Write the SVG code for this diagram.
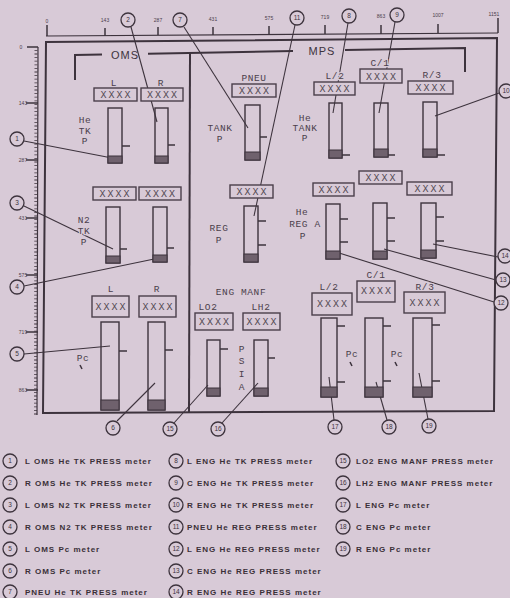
<svg xmlns="http://www.w3.org/2000/svg" width="510" height="598" viewBox="0 0 510 598">
<style>
.fr{stroke:#3d333d;fill:none;stroke-width:2}
.ln{stroke:#3d333d;fill:none;stroke-width:1.2}
.bx{fill:#d8cad7;stroke:#4a3f4a;stroke-width:1.4}
.bar{fill:none;stroke:#3d333d;stroke-width:1.4}
.lvl{fill:#6f616d;stroke:#3d333d;stroke-width:1}
.tk{stroke:#3d333d;stroke-width:1.5}
.t{font-family:"Liberation Mono",monospace;font-size:9.5px;fill:#4b404b;text-anchor:middle;letter-spacing:0.6px;paint-order:stroke;stroke:#d8cad7;stroke-width:2.5px}
.x{font-family:"Liberation Mono",monospace;font-size:10px;fill:#514651;text-anchor:middle;letter-spacing:2px}
.h{font-family:"Liberation Sans",Arial,sans-serif;font-size:11px;fill:#3d333d;text-anchor:middle;letter-spacing:1px}
.r{font-family:"Liberation Sans",Arial,sans-serif;font-size:5px;fill:#4b404b;text-anchor:middle}
.cn{stroke:#3d333d;stroke-width:1.1;fill:none}
.c{fill:#d8cad7;stroke:#3d333d;stroke-width:1.3}
.n{font-family:"Liberation Sans",Arial,sans-serif;font-size:6.5px;fill:#3d333d;text-anchor:middle}
.lg{font-family:"Liberation Sans",Arial,sans-serif;font-size:8px;font-weight:bold;fill:#3a3038;letter-spacing:1px}
</style>
<rect width="510" height="598" fill="#d8cad7"/>

<g id="rulers">
  <line class="ln" x1="46" y1="36" x2="498" y2="33"/>
  <g class="tk" stroke-width="1.2">
    <line x1="47" y1="25" x2="47" y2="36"/>
    <line x1="105" y1="28" x2="105" y2="36"/>
    <line x1="158" y1="27" x2="158" y2="35"/>
    <line x1="213" y1="27" x2="213" y2="35"/>
    <line x1="269" y1="26" x2="269" y2="35"/>
    <line x1="325" y1="25" x2="325" y2="34"/>
    <line x1="381" y1="25" x2="381" y2="34"/>
    <line x1="438" y1="24" x2="438" y2="33"/>
    <line x1="498" y1="18" x2="498" y2="33"/>
  </g>
  <text class="r" x="47" y="23">0</text>
  <text class="r" x="105" y="22">143</text>
  <text class="r" x="158" y="22">287</text>
  <text class="r" x="213" y="21">431</text>
  <text class="r" x="269" y="20">575</text>
  <text class="r" x="325" y="19">719</text>
  <text class="r" x="381" y="18">863</text>
  <text class="r" x="438" y="17">1007</text>
  <text class="r" x="494" y="16">1151</text>
  <line class="ln" x1="38" y1="47" x2="37" y2="415"/>
  <line x1="36" y1="50" x2="35.5" y2="415" stroke="#3d333d" stroke-width="3" stroke-dasharray="0.8 2.8"/>
  <g class="tk" stroke-width="1.2">
    <line x1="27" y1="47" x2="38" y2="47"/>
    <line x1="26" y1="103" x2="38" y2="103"/>
    <line x1="26" y1="160" x2="38" y2="160"/>
    <line x1="26" y1="218" x2="38" y2="218"/>
    <line x1="26" y1="275" x2="38" y2="275"/>
    <line x1="26" y1="332" x2="38" y2="332"/>
    <line x1="26" y1="390" x2="38" y2="390"/>
  </g>
  <text class="r" x="21" y="49" text-anchor="end">0</text>
  <text class="r" x="23" y="105" text-anchor="end">143</text>
  <text class="r" x="23" y="162" text-anchor="end">287</text>
  <text class="r" x="23" y="220" text-anchor="end">431</text>
  <text class="r" x="23" y="277" text-anchor="end">575</text>
  <text class="r" x="23" y="334" text-anchor="end">719</text>
  <text class="r" x="23" y="392" text-anchor="end">863</text>
</g>

<g id="frame">
  <polygon class="fr" points="46,42 497,38 494,411 43,413"/>
  <polyline class="fr" points="75,80 75,55 102,54.5"/>
  <line class="fr" x1="148" y1="53.7" x2="293" y2="51.1"/>
  <polyline class="fr" points="345,50.1 465,48 465,72"/>
  <line class="fr" x1="190" y1="53" x2="189" y2="412"/>
  <text class="h" x="125" y="59">OMS</text>
  <text class="h" x="322" y="55">MPS</text>
</g>

<g id="connectors">
  <line class="cn" x1="24" y1="141" x2="112" y2="158"/>
  <line class="cn" x1="131" y1="27" x2="157" y2="122"/>
  <line class="cn" x1="24" y1="206" x2="113" y2="249"/>
  <line class="cn" x1="24" y1="286" x2="159" y2="258"/>
  <line class="cn" x1="24" y1="354" x2="110" y2="346"/>
  <line class="cn" x1="117" y1="421" x2="155" y2="383"/>
  <line class="cn" x1="184" y1="27" x2="248" y2="128"/>
  <line class="cn" x1="348" y1="23" x2="333" y2="113"/>
  <line class="cn" x1="395" y1="22" x2="379" y2="113"/>
  <line class="cn" x1="499" y1="93" x2="435" y2="116"/>
  <line class="cn" x1="295" y1="25" x2="254" y2="216"/>
  <line class="cn" x1="494" y1="302" x2="336" y2="252"/>
  <line class="cn" x1="496" y1="280" x2="384" y2="249"/>
  <line class="cn" x1="498" y1="257" x2="433" y2="244"/>
  <line class="cn" x1="174" y1="423" x2="208" y2="385"/>
  <line class="cn" x1="222" y1="423" x2="258" y2="383"/>
  <line class="cn" x1="334" y1="420" x2="329" y2="377"/>
  <line class="cn" x1="387" y1="420" x2="376" y2="382"/>
  <line class="cn" x1="428" y1="419" x2="419" y2="373"/>
</g>

<g id="oms-he">
  <text class="t" x="85" y="123">He</text><text class="t" x="85" y="134">TK</text><text class="t" x="85" y="144">P</text>
  <g id="m1">
    <text class="t" x="114" y="86">L</text>
    <rect class="bx" x="94" y="88" width="43" height="13"/><text class="x" x="116.5" y="98">XXXX</text>
    <rect class="bar" x="108" y="108" width="14" height="55"/><rect class="lvl" x="108" y="156" width="14" height="7"/>
    <line class="tk" x1="122" y1="146" x2="130" y2="146"/>
  </g>
  <g id="m2">
    <text class="t" x="161" y="86">R</text>
    <rect class="bx" x="141" y="88" width="42" height="13"/><text class="x" x="163" y="98">XXXX</text>
    <rect class="bar" x="155" y="108" width="13" height="55"/><rect class="lvl" x="155" y="156" width="13" height="7"/>
    <line class="tk" x1="168" y1="145" x2="175" y2="145"/>
  </g>
</g>

<g id="oms-n2">
  <text class="t" x="84" y="223">N2</text><text class="t" x="84" y="234">TK</text><text class="t" x="84" y="245">P</text>
  <g id="m3">
    <rect class="bx" x="93" y="187" width="43" height="13"/><text class="x" x="115.5" y="197">XXXX</text>
    <rect class="bar" x="106" y="207" width="14" height="56"/><rect class="lvl" x="106" y="256" width="14" height="7"/>
    <line class="tk" x1="120" y1="249" x2="127" y2="249"/>
  </g>
  <g id="m4">
    <rect class="bx" x="139" y="187" width="42" height="13"/><text class="x" x="161" y="197">XXXX</text>
    <rect class="bar" x="153" y="207" width="14" height="55"/><rect class="lvl" x="153" y="255" width="14" height="7"/>
    <line class="tk" x1="167" y1="248" x2="174" y2="248"/>
  </g>
</g>

<g id="oms-pc">
  <text class="t" x="83" y="361">Pc</text><line class="tk" x1="80" y1="365" x2="82" y2="369"/>
  <g id="m5">
    <text class="t" x="111" y="292">L</text>
    <rect class="bx" x="92" y="296" width="37" height="21"/><text class="x" x="111.5" y="310">XXXX</text>
    <rect class="bar" x="101" y="322" width="18" height="88"/><rect class="lvl" x="101" y="400" width="18" height="10"/>
    <line class="tk" x1="119" y1="351" x2="127" y2="351"/>
  </g>
  <g id="m6">
    <text class="t" x="157" y="292">R</text>
    <rect class="bx" x="139" y="296" width="37" height="21"/><text class="x" x="158.5" y="310">XXXX</text>
    <rect class="bar" x="148" y="322" width="17" height="88"/><rect class="lvl" x="148" y="400" width="17" height="10"/>
    <line class="tk" x1="165" y1="350" x2="173" y2="350"/>
  </g>
</g>

<g id="m7">
  <text class="t" x="254" y="81">PNEU</text>
  <rect class="bx" x="232" y="84" width="44" height="13"/><text class="x" x="255" y="94">XXXX</text>
  <text class="t" x="220" y="131">TANK</text><text class="t" x="220" y="142">P</text>
  <rect class="bar" x="245" y="105" width="15" height="55"/><rect class="lvl" x="245" y="152" width="15" height="8"/>
  <line class="tk" x1="260" y1="137" x2="267" y2="137"/>
</g>

<g id="m11">
  <rect class="bx" x="230" y="185" width="43" height="13"/><text class="x" x="252.5" y="195">XXXX</text>
  <text class="t" x="219" y="231">REG</text><text class="t" x="219" y="243">P</text>
  <rect class="bar" x="244" y="206" width="14" height="56"/><rect class="lvl" x="244" y="254" width="14" height="8"/>
  <line class="tk" x1="258" y1="221" x2="266" y2="221"/><line class="tk" x1="258" y1="245" x2="266" y2="245"/>
</g>

<g id="eng-manf">
  <text class="t" x="241" y="295">ENG MANF</text>
  <text class="t" x="242" y="352">P</text><text class="t" x="242" y="364">S</text><text class="t" x="242" y="377">I</text><text class="t" x="242" y="390">A</text>
  <g id="m15">
    <text class="t" x="208" y="310">LO2</text>
    <rect class="bx" x="195" y="313" width="38" height="17"/><text class="x" x="215" y="325">XXXX</text>
    <rect class="bar" x="207" y="340" width="13" height="56"/><rect class="lvl" x="207" y="388" width="13" height="8"/>
    <line class="tk" x1="220" y1="349" x2="228" y2="349"/>
  </g>
  <g id="m16">
    <text class="t" x="261" y="310">LH2</text>
    <rect class="bx" x="243" y="313" width="37" height="17"/><text class="x" x="262.5" y="325">XXXX</text>
    <rect class="bar" x="254" y="340" width="14" height="56"/><rect class="lvl" x="254" y="388" width="14" height="8"/>
    <line class="tk" x1="268" y1="358" x2="275" y2="358"/>
  </g>
</g>

<g id="mps-he-tank">
  <text class="t" x="305" y="121">He</text><text class="t" x="305" y="131">TANK</text><text class="t" x="305" y="141">P</text>
  <g id="m8">
    <text class="t" x="335" y="79">L/2</text>
    <rect class="bx" x="314" y="82" width="41" height="13"/><text class="x" x="335.5" y="92">XXXX</text>
    <rect class="bar" x="329" y="103" width="13" height="55"/><rect class="lvl" x="329" y="150" width="13" height="8"/>
    <line class="tk" x1="342" y1="155" x2="350" y2="155"/>
  </g>
  <g id="m9">
    <text class="t" x="380" y="66">C/1</text>
    <rect class="bx" x="360" y="69" width="42" height="14"/><text class="x" x="382" y="80">XXXX</text>
    <rect class="bar" x="374" y="103" width="14" height="54"/><rect class="lvl" x="374" y="149" width="14" height="8"/>
    <line class="tk" x1="388" y1="155" x2="395" y2="155"/>
  </g>
  <g id="m10">
    <text class="t" x="432" y="78">R/3</text>
    <rect class="bx" x="408" y="81" width="45" height="13"/><text class="x" x="431.5" y="91">XXXX</text>
    <rect class="bar" x="423" y="102" width="14" height="55"/><rect class="lvl" x="423" y="149" width="14" height="8"/>
    <line class="tk" x1="437" y1="155" x2="445" y2="155"/>
  </g>
</g>

<g id="mps-he-reg">
  <text class="t" x="302" y="215">He</text><text class="t" x="305" y="227">REG A</text><text class="t" x="303" y="239">P</text>
  <g id="m12">
    <rect class="bx" x="313" y="183" width="41" height="13"/><text class="x" x="334.5" y="193">XXXX</text>
    <rect class="bar" x="326" y="204" width="14" height="55"/><rect class="lvl" x="326" y="251" width="14" height="8"/>
    <line class="tk" x1="340" y1="219" x2="348" y2="219"/><line class="tk" x1="340" y1="242" x2="348" y2="242"/>
  </g>
  <g id="m13">
    <rect class="bx" x="359" y="171" width="43" height="13"/><text class="x" x="381.5" y="181">XXXX</text>
    <rect class="bar" x="373" y="203" width="14" height="56"/><rect class="lvl" x="373" y="251" width="14" height="8"/>
    <line class="tk" x1="387" y1="218" x2="395" y2="218"/><line class="tk" x1="387" y1="241" x2="395" y2="241"/>
  </g>
  <g id="m14">
    <rect class="bx" x="407" y="182" width="45" height="13"/><text class="x" x="430.5" y="192">XXXX</text>
    <rect class="bar" x="421" y="203" width="15" height="55"/><rect class="lvl" x="421" y="250" width="15" height="8"/>
    <line class="tk" x1="436" y1="217" x2="444" y2="217"/><line class="tk" x1="436" y1="241" x2="444" y2="241"/>
  </g>
</g>

<g id="mps-pc">
  <text class="t" x="352" y="357">Pc</text><line class="tk" x1="350" y1="362" x2="352" y2="366"/>
  <text class="t" x="397" y="357">Pc</text><line class="tk" x1="395" y1="362" x2="397" y2="366"/>
  <g id="m17">
    <text class="t" x="329" y="290">L/2</text>
    <rect class="bx" x="312" y="293" width="40" height="22"/><text class="x" x="333" y="307">XXXX</text>
    <rect class="bar" x="321" y="318" width="16" height="79"/><rect class="lvl" x="321" y="387" width="16" height="10"/>
    <line class="tk" x1="337" y1="326" x2="345" y2="326"/><line class="tk" x1="337" y1="382" x2="345" y2="382"/>
  </g>
  <g id="m18">
    <text class="t" x="376" y="278">C/1</text>
    <rect class="bx" x="357" y="281" width="38" height="21"/><text class="x" x="377" y="294">XXXX</text>
    <rect class="bar" x="365" y="318" width="18" height="79"/><rect class="lvl" x="365" y="387" width="18" height="10"/>
    <line class="tk" x1="383" y1="326" x2="391" y2="326"/><line class="tk" x1="383" y1="381" x2="391" y2="381"/>
  </g>
  <g id="m19">
    <text class="t" x="425" y="290">R/3</text>
    <rect class="bx" x="404" y="292" width="41" height="21"/><text class="x" x="425.5" y="306">XXXX</text>
    <rect class="bar" x="413" y="318" width="19" height="79"/><rect class="lvl" x="413" y="387" width="19" height="10"/>
    <line class="tk" x1="432" y1="325" x2="440" y2="325"/><line class="tk" x1="432" y1="381" x2="440" y2="381"/>
  </g>
</g>

<g id="callouts">
  <g id="c1"><circle class="c" cx="17" cy="139" r="7"/><text class="n" x="17" y="141.3">1</text></g>
  <g id="c2"><circle class="c" cx="128" cy="20" r="7"/><text class="n" x="128" y="22.3">2</text></g>
  <g id="c3"><circle class="c" cx="17" cy="203" r="7"/><text class="n" x="17" y="205.3">3</text></g>
  <g id="c4"><circle class="c" cx="17" cy="287" r="7"/><text class="n" x="17" y="289.3">4</text></g>
  <g id="c5"><circle class="c" cx="17" cy="354" r="7"/><text class="n" x="17" y="356.3">5</text></g>
  <g id="c6"><circle class="c" cx="113" cy="428" r="7"/><text class="n" x="113" y="430.3">6</text></g>
  <g id="c7"><circle class="c" cx="180" cy="20" r="7"/><text class="n" x="180" y="22.3">7</text></g>
  <g id="c8"><circle class="c" cx="349" cy="16" r="7"/><text class="n" x="349" y="18.3">8</text></g>
  <g id="c9"><circle class="c" cx="397" cy="15" r="7"/><text class="n" x="397" y="17.3">9</text></g>
  <g id="c10"><circle class="c" cx="506" cy="91" r="7"/><text class="n" x="506" y="93.3">10</text></g>
  <g id="c11"><circle class="c" cx="297" cy="18" r="7"/><text class="n" x="297" y="20.3">11</text></g>
  <g id="c12"><circle class="c" cx="501" cy="303" r="7"/><text class="n" x="501" y="305.3">12</text></g>
  <g id="c13"><circle class="c" cx="503" cy="280" r="7"/><text class="n" x="503" y="282.3">13</text></g>
  <g id="c14"><circle class="c" cx="505" cy="256" r="7"/><text class="n" x="505" y="258.3">14</text></g>
  <g id="c15"><circle class="c" cx="170" cy="429" r="7"/><text class="n" x="170" y="431.3">15</text></g>
  <g id="c16"><circle class="c" cx="218" cy="429" r="7"/><text class="n" x="218" y="431.3">16</text></g>
  <g id="c17"><circle class="c" cx="335" cy="427" r="7"/><text class="n" x="335" y="429.3">17</text></g>
  <g id="c18"><circle class="c" cx="389" cy="427" r="7"/><text class="n" x="389" y="429.3">18</text></g>
  <g id="c19"><circle class="c" cx="429" cy="426" r="7"/><text class="n" x="429" y="428.3">19</text></g>
</g>

<g id="legend">
  <circle class="c" cx="10" cy="461" r="7"/><text class="n" x="10" y="463.3">1</text><text class="lg" x="25" y="464">L OMS He TK PRESS meter</text>
  <circle class="c" cx="10" cy="483" r="7"/><text class="n" x="10" y="485.3">2</text><text class="lg" x="25" y="486">R OMS He TK PRESS meter</text>
  <circle class="c" cx="10" cy="505" r="7"/><text class="n" x="10" y="507.3">3</text><text class="lg" x="25" y="508">L OMS N2 TK PRESS meter</text>
  <circle class="c" cx="10" cy="527" r="7"/><text class="n" x="10" y="529.3">4</text><text class="lg" x="25" y="530">R OMS N2 TK PRESS  meter</text>
  <circle class="c" cx="10" cy="549" r="7"/><text class="n" x="10" y="551.3">5</text><text class="lg" x="25" y="552">L OMS Pc meter</text>
  <circle class="c" cx="10" cy="571" r="7"/><text class="n" x="10" y="573.3">6</text><text class="lg" x="25" y="574">R OMS Pc meter</text>
  <circle class="c" cx="10" cy="592" r="7"/><text class="n" x="10" y="594.3">7</text><text class="lg" x="25" y="595">PNEU He TK PRESS meter</text>

  <circle class="c" cx="176" cy="461" r="7"/><text class="n" x="176" y="463.3">8</text><text class="lg" x="187" y="464">L ENG He TK PRESS meter</text>
  <circle class="c" cx="176" cy="483" r="7"/><text class="n" x="176" y="485.3">9</text><text class="lg" x="187" y="486">C ENG He TK PRESS meter</text>
  <circle class="c" cx="176" cy="505" r="7"/><text class="n" x="176" y="507.3">10</text><text class="lg" x="187" y="508">R ENG He TK PRESS meter</text>
  <circle class="c" cx="176" cy="527" r="7"/><text class="n" x="176" y="529.3">11</text><text class="lg" x="187" y="530">PNEU He REG PRESS  meter</text>
  <circle class="c" cx="176" cy="549" r="7"/><text class="n" x="176" y="551.3">12</text><text class="lg" x="187" y="552">L ENG He REG PRESS meter</text>
  <circle class="c" cx="176" cy="571" r="7"/><text class="n" x="176" y="573.3">13</text><text class="lg" x="187" y="574">C ENG He REG PRESS meter</text>
  <circle class="c" cx="176" cy="592" r="7"/><text class="n" x="176" y="594.3">14</text><text class="lg" x="187" y="595">R ENG He REG PRESS meter</text>

  <circle class="c" cx="343" cy="461" r="7"/><text class="n" x="343" y="463.3">15</text><text class="lg" x="356" y="464">LO2 ENG MANF PRESS meter</text>
  <circle class="c" cx="343" cy="483" r="7"/><text class="n" x="343" y="485.3">16</text><text class="lg" x="356" y="486">LH2 ENG MANF PRESS meter</text>
  <circle class="c" cx="343" cy="505" r="7"/><text class="n" x="343" y="507.3">17</text><text class="lg" x="356" y="508">L ENG Pc meter</text>
  <circle class="c" cx="343" cy="527" r="7"/><text class="n" x="343" y="529.3">18</text><text class="lg" x="356" y="530">C ENG Pc meter</text>
  <circle class="c" cx="343" cy="549" r="7"/><text class="n" x="343" y="551.3">19</text><text class="lg" x="356" y="552">R ENG Pc meter</text>
</g>
</svg>
